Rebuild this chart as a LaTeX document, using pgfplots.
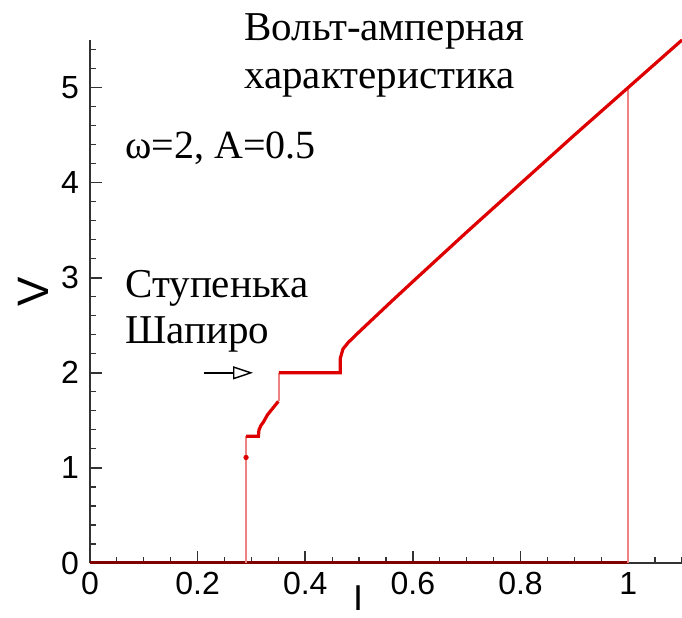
\documentclass[border=0pt]{standalone}
\usepackage{fontspec}
\setmainfont{Liberation Serif}
\newfontfamily\arial{Liberation Sans}
\usepackage{pgfplots}
\pgfplotsset{compat=1.18}
\usetikzlibrary{arrows.meta}

\definecolor{ivred}{RGB}{222,0,0}
\definecolor{ivjump}{RGB}{238,130,130}
\definecolor{ivzero}{RGB}{128,0,0}
\definecolor{axisgray}{RGB}{50,50,50}

\begin{document}
\begin{tikzpicture}
\begin{axis}[
  scale only axis,
  width=296pt, height=261.5pt,
  xmin=0, xmax=1.1, ymin=0, ymax=5.5,
  axis lines=left,
  axis line style={axisgray, line width=1pt, -},
  clip mode=individual,
  xtick={0,0.2,0.4,0.6,0.8,1},
  xticklabels={0,0.2,0.4,0.6,0.8,1},
  ytick={0,1,2,3,4,5},
  minor xtick={0.05,0.1,...,1.1},
  minor ytick={0.2,0.4,...,5.4},
  tick align=inside,
  major tick length=6pt,
  minor tick length=3pt,
  tick style={axisgray, line width=0.8pt},
  minor tick style={axisgray, line width=0.6pt},
  /pgf/number format/assume math mode=true,
  ticklabel style={font=\arial\fontsize{16}{18}\selectfont},
  xticklabel style={yshift=-1pt},
  yticklabel style={xshift=-2pt},
]
% superconducting branch (V = 0)
\addplot[ivzero, line width=1.6pt] coordinates {(0,0) (1.0,0)};
% switching jumps
\addplot[ivjump, line width=0.7pt] coordinates {(0.29,0) (0.29,1.334)};
\addplot[ivjump, line width=0.7pt] coordinates {(0.351,1.70) (0.351,2.0)};
\addplot[ivjump, line width=0.7pt] coordinates {(1.0,0) (1.0,5.0)};
% resistive branch with Shapiro steps
\addplot[ivred, line width=1.6pt] coordinates {
  (0.290,1.334) (0.313,1.334) (0.314,1.40) (0.318,1.45) (0.322,1.48)
  (0.330,1.56) (0.340,1.63) (0.350,1.70)};
\addplot[ivred, line width=1.6pt] coordinates {
  (0.351,2.0) (0.465,2.0) (0.465,2.15) (0.470,2.25) (0.480,2.32)
  (0.500,2.43) (0.530,2.59) (0.560,2.75) (0.600,2.96) (0.650,3.22)
  (0.700,3.48) (0.800,3.99) (0.900,4.50) (1.000,5.00) (1.100,5.50)};
\addplot[ivred, only marks, mark=*, mark size=1.1pt] coordinates {(0.29,1.11)};

% labels and annotations
\node[anchor=base west, font=\fontsize{20.5}{23}\selectfont, inner sep=0pt]
  at (axis cs:0.286,5.494) {Вольт-амперная};
\node[anchor=base west, font=\fontsize{20.5}{23}\selectfont, inner sep=0pt]
  at (axis cs:0.286,4.990) {характеристика};
\node[anchor=base west, font=\fontsize{20}{22}\selectfont, inner sep=0pt]
  at (axis cs:0.065,4.254) {ω=2, A=0.5};
\node[anchor=base west, font=\fontsize{20.5}{23}\selectfont, inner sep=0pt]
  at (axis cs:0.065,2.795) {Ступенька};
\node[anchor=base west, font=\fontsize{20.5}{23}\selectfont, inner sep=0pt]
  at (axis cs:0.065,2.31) {Шапиро};
\draw[line width=0.7pt, -{Triangle[open, length=10pt, width=6.5pt]}]
  (axis cs:0.212,2.0) -- (axis cs:0.303,2.0);
\node[font=\arial\fontsize{22}{24}\selectfont, rotate=90, inner sep=0pt]
  at (rel axis cs:-0.0962,0.519) {V};
\node[font=\arial\fontsize{18}{20}\selectfont, inner sep=0pt]
  at (axis cs:0.498,-0.37) {I};

\coordinate (bbsw) at (rel axis cs:-0.152,-0.105);
\coordinate (bbne) at (rel axis cs:1.0,1.0765);
\end{axis}
\pgfresetboundingbox
\useasboundingbox (bbsw) rectangle (bbne);
\end{tikzpicture}
\end{document}
